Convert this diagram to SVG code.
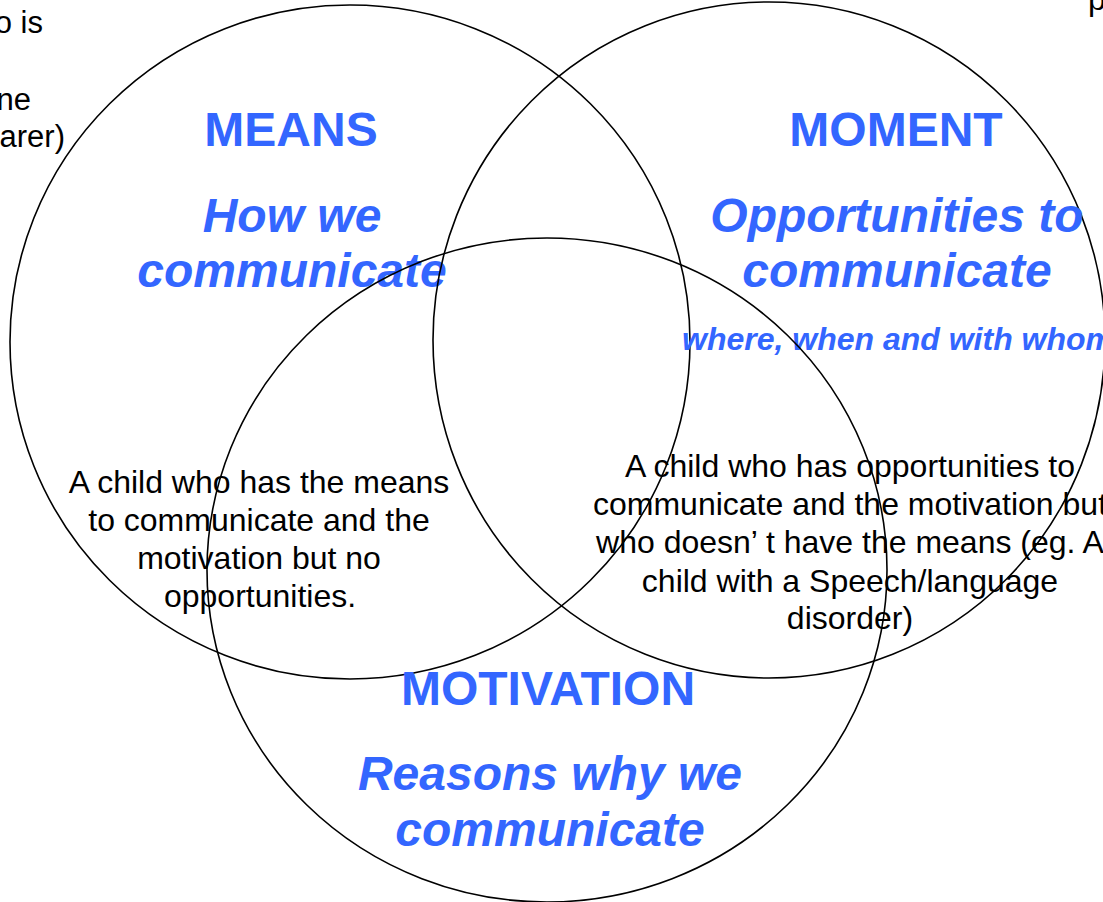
<svg xmlns="http://www.w3.org/2000/svg" width="1103" height="902" viewBox="0 0 1103 902">
  <style>
    .ring { fill: none; stroke: #000; stroke-width: 1.6; }
    .head { font-family: "Liberation Sans", Arial, sans-serif; font-weight: bold; font-size: 48px; fill: #3366FF; text-anchor: middle; }
    .sub { font-family: "Liberation Sans", Arial, sans-serif; font-weight: bold; font-style: italic; font-size: 48px; fill: #3366FF; text-anchor: middle; }
    .small { font-family: "Liberation Sans", Arial, sans-serif; font-weight: bold; font-style: italic; font-size: 32px; fill: #3366FF; }
    .body { font-family: "Liberation Sans", Arial, sans-serif; font-size: 32px; fill: #000; text-anchor: middle; }
    .frag { font-family: "Liberation Sans", Arial, sans-serif; font-size: 31px; fill: #000; text-anchor: end; }
  </style>
  <rect width="1103" height="902" fill="#fff"/>

  <!-- three overlapping sets -->
  <g id="means">
    <ellipse class="ring" cx="350" cy="342" rx="340" ry="337"/>
    <text class="head" x="291" y="146">MEANS</text>
    <text class="sub" x="292" y="232">How we</text>
    <text class="sub" x="292" y="287">communicate</text>
  </g>

  <g id="moment">
    <ellipse class="ring" cx="769" cy="340" rx="336" ry="338"/>
    <text class="head" x="896" y="146">MOMENT</text>
    <text class="sub" x="897" y="232">Opportunities to</text>
    <text class="sub" x="897" y="287">communicate</text>
    <text class="small" x="682" y="350">where, when and with whom</text>
  </g>

  <g id="motivation">
    <ellipse class="ring" cx="547" cy="570" rx="340" ry="332"/>
    <text class="head" x="548" y="705">MOTIVATION</text>
    <text class="sub" x="550" y="790">Reasons why we</text>
    <text class="sub" x="550" y="846">communicate</text>
  </g>

  <!-- overlap descriptions -->
  <g id="means-motivation">
    <text class="body" x="259" y="493">A child who has the means</text>
    <text class="body" x="259" y="531">to communicate and the</text>
    <text class="body" x="259" y="569">motivation but no</text>
    <text class="body" x="260" y="607">opportunities.</text>
  </g>

  <g id="moment-motivation">
    <text class="body" x="850" y="477">A child who has opportunities to</text>
    <text class="body" x="850" y="515">communicate and the motivation but</text>
    <text class="body" x="850" y="553">who doesn’<tspan dx="8">t have the means (eg. A</tspan></text>
    <text class="body" x="850" y="592">child with a Speech/language</text>
    <text class="body" x="850" y="629">disorder)</text>
  </g>

  <!-- text running in from the page edges -->
  <g id="edge-text">
    <text class="frag" x="43" y="33">o is</text>
    <text class="frag" x="31" y="110">ne</text>
    <text class="frag" x="65" y="147">arer)</text>
    <text class="body" x="1097" y="10" text-anchor="start">p</text>
  </g>
</svg>
